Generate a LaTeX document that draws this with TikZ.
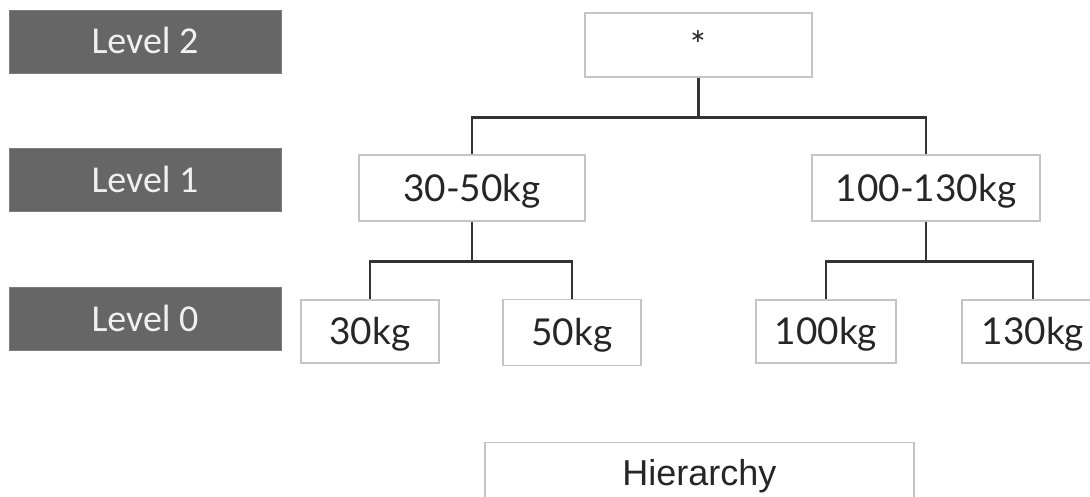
\documentclass[tikz,border=0pt]{standalone}
\usepackage{fontspec}
\newfontfamily\levelfont{Carlito}
\newfontfamily\treefont{Lato}
\newfontfamily\captionfont{Liberation Sans}
\definecolor{levelgray}{HTML}{666666}
\definecolor{boxline}{HTML}{C4C4C4}
\definecolor{linkcol}{HTML}{333333}
\tikzset{
  levelbox/.style={draw=levelgray!85!white, line width=0.8pt, fill=levelgray,
    text=white!94!black, font=\levelfont\fontsize{38}{40}\selectfont,
    minimum width=272, minimum height=63, inner sep=0pt,
    text height=24.5pt, text depth=0pt},
  treebox/.style={draw=boxline, line width=1.2pt, fill=white, text=black!85,
    font=\treefont\fontsize{37}{40}\selectfont,
    minimum height=65, inner sep=0pt, text height=26.5pt, text depth=0pt},
  link/.style={draw=linkcol, line width=2.2pt}
}
\begin{document}
\begin{tikzpicture}[x=1pt, y=-1pt]
\useasboundingbox (0,0) rectangle (1090,497);
\clip (0,0) rectangle (1090,497);

% level labels
\node[levelbox] (lv2) at (145,41.5) {Level 2};
\node[levelbox] (lv1) at (145,180)  {Level 1};
\node[levelbox] (lv0) at (145,319)  {Level 0};

% tree nodes
\node[treebox, minimum width=227, minimum height=64] (root) at (698.5,45) {*};
\node[treebox, minimum width=226, minimum height=66] (ga) at (472,188) {30-50kg};
\node[treebox, minimum width=228, minimum height=66] (gb) at (926,188) {100-130kg};
\node[treebox, minimum width=138, minimum height=63] (w30)  at (370,331.5) {30kg};
\node[treebox, minimum width=138, minimum height=66] (w50)  at (572,332.5) {50kg};
\node[treebox, minimum width=140, minimum height=63] (w100) at (826,331.5) {100kg};
\node[treebox, minimum width=142, minimum height=63] (w130) at (1033,331.5) {130kg};

% caption box, running past the lower edge
\node[draw=boxline, line width=1.2pt, minimum width=429, minimum height=70,
      inner sep=0pt, anchor=north] (cap) at (699.5,442) {};
\node[font=\captionfont\fontsize{36}{40}\selectfont, text=black!85,
      anchor=base] (captext) at (699.5,485) {Hierarchy};

% connectors
\draw[link] (root.south) -- ++(0,40) -| (ga.north);
\draw[link] (root.south) ++(0,40) -| (gb.north);
\draw[link] (ga.south) -- ++(0,40) -| (w30.north);
\draw[link] (ga.south) ++(0,40) -| (w50.north);
\draw[link] (gb.south) -- ++(0,40) -| (w100.north);
\draw[link] (gb.south) ++(0,40) -| (w130.north);
\end{tikzpicture}
\end{document}
